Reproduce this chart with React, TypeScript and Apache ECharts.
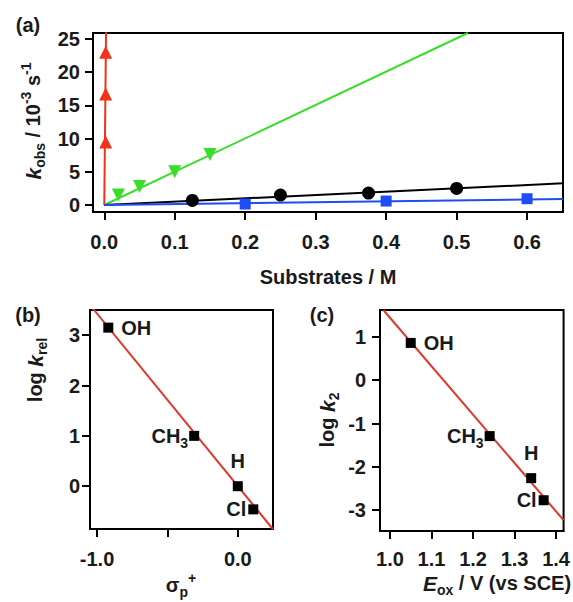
import React, { useEffect, useRef } from 'react';
import * as echarts from 'echarts';

// ---------- Panel (a) data ----------
const aRedX = [0.002, 0.002, 0.002];
const aRedY = [9.5, 16.7, 23.0];
const aGreenX = [0.02, 0.05, 0.1, 0.15];
const aGreenY = [1.5, 2.8, 5.0, 7.6];
const aBlackX = [0.125, 0.25, 0.375, 0.5];
const aBlackY = [0.7, 1.5, 1.8, 2.5];
const aBlueX = [0.2, 0.4, 0.6];
const aBlueY = [0.15, 0.6, 0.95];
const aRedFitX = [0, 0.0025];
const aRedFitY = [0, 26];
const aGreenFitX = [0, 0.516];
const aGreenFitY = [0, 25.9];
const aBlackFitX = [0, 0.651];
const aBlackFitY = [0, 3.27];
const aBlueFitX = [0, 0.651];
const aBlueFitY = [0, 0.9];
const aXTicks = [0, 0.1, 0.2, 0.3, 0.4, 0.5, 0.6];
const aYTicks = [0, 5, 10, 15, 20, 25];

// ---------- Panel (b) data ----------
const substituents = ['OH', 'CH3', 'H', 'Cl'];
const sigmaP = [-0.92, -0.31, 0.0, 0.11];
const logKrel = [3.15, 1.0, 0.0, -0.46];
const bFitX = [-1.03, 0.25];
const bFitY = [3.53, -0.855];
const bXTicks = [-1.0, -0.5, 0.0];
const bXLabels = [-1.0, 0.0];
const bYTicks = [0, 1, 2, 3];

// ---------- Panel (c) data ----------
const eox = [1.05, 1.24, 1.34, 1.37];
const logK2 = [0.86, -1.29, -2.26, -2.77];
const cFitX = [0.984, 1.418];
const cFitY = [1.62, -3.23];
const cXTicks = [1.0, 1.1, 1.2, 1.3, 1.4];
const cYTicks = [-3, -2, -1, 0, 1];

const FONT = '"Liberation Sans", Arial, sans-serif';
const TXT = '#1a1a1a';
const RED = '#f2321a';
const RED2 = '#e0382a';
const GREEN = '#3ade2a';
const BLUE = '#1f4cf5';

const zip = (xs: number[], ys: number[]) => xs.map((x, i) => [x, ys[i]]);

const labelStyle = {
  fontFamily: FONT,
  fontWeight: 'bold' as const,
  fontSize: 20,
  color: TXT,
};

function xAx(gridIndex: number, min: number, max: number, ticks: number[], labels: number[], margin: number) {
  return {
    type: 'value',
    gridIndex,
    min,
    max,
    axisLine: { show: true, onZero: false, lineStyle: { color: '#000', width: 2 } },
    axisTick: { show: true, customValues: ticks, length: 8, lineStyle: { color: '#000', width: 2 } },
    axisLabel: {
      show: true,
      customValues: labels,
      margin,
      formatter: (v: number) => v.toFixed(1),
      ...labelStyle,
    },
    splitLine: { show: false },
  };
}

function yAx(gridIndex: number, min: number, max: number, ticks: number[], margin: number) {
  return {
    type: 'value',
    gridIndex,
    min,
    max,
    axisLine: { show: true, onZero: false, lineStyle: { color: '#000', width: 2 } },
    axisTick: { show: true, customValues: ticks, length: 8, lineStyle: { color: '#000', width: 2 } },
    axisLabel: {
      show: true,
      customValues: ticks,
      margin,
      formatter: (v: number) => String(v),
      ...labelStyle,
    },
    splitLine: { show: false },
  };
}

const richSub = {
  n: { fontFamily: FONT, fontWeight: 'bold', fontSize: 20, lineHeight: 28, color: TXT },
  i: { fontFamily: FONT, fontWeight: 'bold', fontStyle: 'italic', fontSize: 21, lineHeight: 28, color: TXT },
  sub: { fontFamily: FONT, fontWeight: 'bold', fontSize: 14, lineHeight: 14, verticalAlign: 'bottom', color: TXT },
  sup: { fontFamily: FONT, fontWeight: 'bold', fontSize: 14, lineHeight: 14, verticalAlign: 'top', color: TXT },
};

function fitLine(xi: number, yi: number, xs: number[], ys: number[], color: string) {
  return {
    type: 'line',
    xAxisIndex: xi,
    yAxisIndex: yi,
    data: zip(xs, ys),
    symbol: 'none',
    clip: true,
    lineStyle: { color, width: 2 },
    z: 2,
  };
}

function scat(xi: number, yi: number, xs: number[], ys: number[], color: string, symbol: string, size: number, rotate = 0) {
  return {
    type: 'scatter',
    xAxisIndex: xi,
    yAxisIndex: yi,
    data: zip(xs, ys),
    symbol,
    symbolSize: size,
    symbolRotate: rotate,
    itemStyle: { color, opacity: 1 },
    z: 3,
  };
}

const labelPos: Record<string, any> = {
  OH: { position: 'right', distance: 8 },
  CH3: { position: 'left', distance: 1 },
  H: { position: 'top', distance: 6 },
  Cl: { position: 'left', distance: 2 },
};

function labelled(xi: number, yi: number, xs: number[], ys: number[]) {
  return {
    type: 'scatter',
    xAxisIndex: xi,
    yAxisIndex: yi,
    symbol: 'rect',
    symbolSize: 10,
    itemStyle: { color: '#000', opacity: 1 },
    z: 3,
    data: xs.map((x, i) => ({
      value: [x, ys[i]],
      label: {
        show: true,
        color: TXT,
        opacity: 1,
        fontFamily: FONT,
        fontWeight: 'bold',
        fontSize: 20,
        ...labelPos[substituents[i]],
        formatter: substituents[i] === 'CH3' ? '{n|CH}{sub|3}' : `{n|${substituents[i]}}`,
        rich: richSub,
      },
    })),
  };
}

function txt(x: number, y: number, text: string, rotation = 0) {
  return {
    type: 'text',
    x,
    y,
    rotation,
    style: {
      text,
      rich: richSub,
      align: 'center',
      verticalAlign: 'middle',
      fontFamily: FONT,
      fontWeight: 'bold',
      fontSize: 20,
      fill: TXT,
    },
  };
}

const option = {
  animation: false,
  backgroundColor: '#fff',
  grid: [
    { left: 93, top: 33, width: 470, height: 179, show: true, borderColor: '#000', borderWidth: 2, backgroundColor: 'transparent' },
    { left: 90, top: 310, width: 183, height: 219, show: true, borderColor: '#000', borderWidth: 2, backgroundColor: 'transparent' },
    { left: 380, top: 310, width: 186, height: 221, show: true, borderColor: '#000', borderWidth: 2, backgroundColor: 'transparent' },
  ],
  xAxis: [
    xAx(0, -0.016, 0.651, aXTicks, aXTicks, 20),
    xAx(1, -1.05, 0.25, bXTicks, bXLabels, 20),
    xAx(2, 0.976, 1.418, cXTicks, cXTicks, 18),
  ],
  yAxis: [
    yAx(0, -1.05, 25.9, aYTicks, 13),
    yAx(1, -0.85, 3.5, bYTicks, 10),
    yAx(2, -3.48, 1.62, cYTicks, 14),
  ],
  series: [
    fitLine(0, 0, aRedFitX, aRedFitY, RED),
    fitLine(0, 0, aGreenFitX, aGreenFitY, GREEN),
    fitLine(0, 0, aBlackFitX, aBlackFitY, '#000'),
    fitLine(0, 0, aBlueFitX, aBlueFitY, BLUE),
    scat(0, 0, aRedX, aRedY, RED, 'triangle', 13),
    scat(0, 0, aGreenX, aGreenY, GREEN, 'triangle', 13, 180),
    scat(0, 0, aBlackX, aBlackY, '#000', 'circle', 13),
    scat(0, 0, aBlueX, aBlueY, BLUE, 'rect', 11),
    fitLine(1, 1, bFitX, bFitY, RED2),
    labelled(1, 1, sigmaP, logKrel),
    fitLine(2, 2, cFitX, cFitY, RED2),
    labelled(2, 2, eox, logK2),
  ],
  graphic: [
    txt(28, 25, '{n|(a)}'),
    txt(28, 315, '{n|(b)}'),
    txt(322, 315, '{n|(c)}'),
    txt(33, 121, '{i|k}{sub|obs}{n| / 10}{sup|-3}{n| s}{sup|-1}', Math.PI / 2),
    txt(328, 277, '{n|Substrates / M}'),
    txt(35, 370, '{n|log }{i|k}{sub|rel}', Math.PI / 2),
    txt(181, 585, '{n|σ}{sub|p}{sup|+}'),
    txt(327, 420, '{n|log }{i|k}{sub|2}', Math.PI / 2),
    txt(497, 583, '{i|E}{sub|ox}{n| / V (vs SCE)}'),
  ],
};

export default function App() {
  const ref = useRef<HTMLDivElement>(null);
  useEffect(() => {
    document.body.style.margin = '0';
    const chart = echarts.init(ref.current!, null, { renderer: 'svg' });
    chart.setOption(option as any);
    return () => chart.dispose();
  }, []);
  return <div ref={ref} style={{ width: 573, height: 602 }} />;
}
